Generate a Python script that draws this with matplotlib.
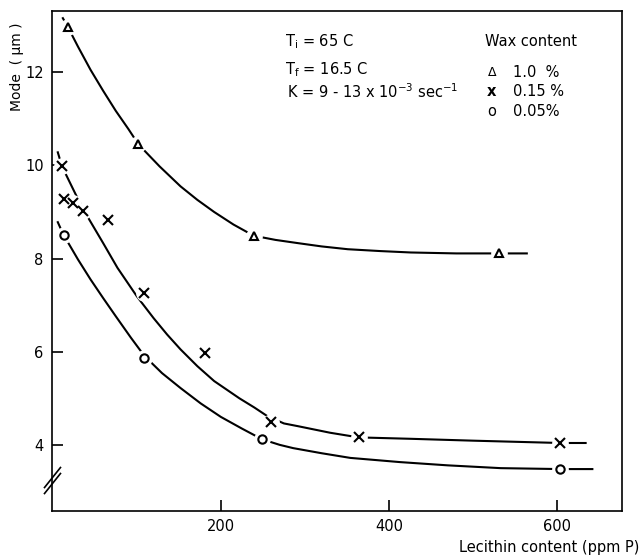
import numpy as np
import matplotlib
matplotlib.use("Agg")
import matplotlib.pyplot as plt

# measured points (lecithin ppm P, mode um)
tri_x = [18, 102, 239, 531]
tri_y = [12.97, 10.45, 8.49, 8.11]
cross_x = [11, 13, 24, 36, 66, 109, 181, 260, 364, 604]
cross_y = [9.98, 9.27, 9.2, 9.03, 8.82, 7.25, 5.98, 4.5, 4.16, 4.04]
circ_x = [13, 109, 249, 604]
circ_y = [8.5, 5.87, 4.12, 3.48]

# hand drawn curves
tri_cx = [12, 18, 30, 45, 60, 75, 90, 102, 127, 152, 172, 192, 215, 239,
          265, 292, 320, 351, 390, 426, 480, 531, 564]
tri_cy = [13.16, 12.97, 12.55, 12.05, 11.6, 11.17, 10.78, 10.45, 9.98, 9.55, 9.26, 9.0, 8.73, 8.49,
          8.4, 8.33, 8.26, 8.2, 8.16, 8.13, 8.11, 8.11, 8.11]
cross_cx = [6, 11, 15, 28, 42, 60, 77, 100, 120, 136, 152, 172, 192, 222, 240, 255,
            275, 292, 330, 364, 426, 500, 604, 634]
cross_cy = [10.28, 9.98, 9.83, 9.35, 8.88, 8.33, 7.8, 7.19, 6.72, 6.37, 6.05, 5.69, 5.37, 5.0, 4.8, 4.62,
            4.46, 4.4, 4.26, 4.16, 4.13, 4.09, 4.04, 4.04]
circ_cx = [6, 13, 18, 30, 45, 60, 75, 93, 109, 130, 152, 176, 200, 225, 249, 270, 286,
           320, 354, 413, 470, 533, 604, 642]
circ_cy = [8.78, 8.5, 8.35, 7.98, 7.55, 7.15, 6.76, 6.3, 5.91, 5.54, 5.22, 4.89, 4.6, 4.35, 4.12, 4.0, 3.93,
           3.82, 3.72, 3.63, 3.56, 3.5, 3.48, 3.48]

fig = plt.figure(figsize=(6.41, 5.6), dpi=100)
ax = fig.add_axes([0.081, 0.0875, 0.889, 0.8925])

for cx, cy in [(tri_cx, tri_cy), (cross_cx, cross_cy), (circ_cx, circ_cy)]:
    ax.plot(cx, cy, color='black', lw=1.5, zorder=2, solid_joinstyle='round')

# white patches so the curves break at the markers
allx = tri_x + cross_x + circ_x
ally = tri_y + cross_y + circ_y
ax.plot(allx, ally, 'o', ms=11, mfc='white', mec='white', zorder=3)

ax.plot(tri_x, tri_y, '^', ms=6, mfc='white', mec='black', mew=1.5, zorder=4)
ax.plot(cross_x, cross_y, 'x', ms=7, mec='black', mew=1.5, zorder=4)
ax.plot(circ_x, circ_y, 'o', ms=6, mfc='white', mec='black', mew=1.5, zorder=4)

ax.set_xlim(-1, 677)
ax.set_ylim(2.58, 13.31)
ax.set_xticks([200, 400, 600])
ax.set_yticks([4, 6, 8, 10, 12])
ax.tick_params(direction='in', length=8, width=1.2, labelsize=10.5, pad=6)
for s in ax.spines.values():
    s.set_linewidth(1.2)

# axis break on the y axis
for dy in (0.0, 0.012):
    ax.plot([-0.013, 0.015], [0.035 + dy, 0.075 + dy], transform=ax.transAxes,
            color='black', lw=1.2, clip_on=False, zorder=5)

fig.text(0.026, 0.88, 'Mode  ( µm )', rotation=90, ha='center', va='center', fontsize=10)
fig.text(0.998, 0.023, 'Lecithin content (ppm P)', ha='right', va='center', fontsize=10.5)

fs = 10.5
fig.text(0.445, 0.925, '$\\mathregular{T_i}$ = 65 C', fontsize=fs, va='center')
fig.text(0.445, 0.875, '$\\mathregular{T_f}$ = 16.5 C', fontsize=fs, va='center')
fig.text(0.447, 0.836, 'K = 9 - 13 x 10$^{-3}$ sec$^{-1}$', fontsize=fs, va='center')

fig.text(0.757, 0.925, 'Wax content', fontsize=fs, va='center')
fig.text(0.760, 0.871, '$\\Delta$', fontsize=9, va='center')
fig.text(0.800, 0.871, '1.0  %', fontsize=fs, va='center')
fig.text(0.760, 0.836, 'x', fontsize=fs, va='center', weight='bold')
fig.text(0.800, 0.836, '0.15 %', fontsize=fs, va='center')
fig.text(0.760, 0.800, 'o', fontsize=fs, va='center')
fig.text(0.800, 0.800, '0.05%', fontsize=fs, va='center')

fig.savefig('out.png', dpi=100)
